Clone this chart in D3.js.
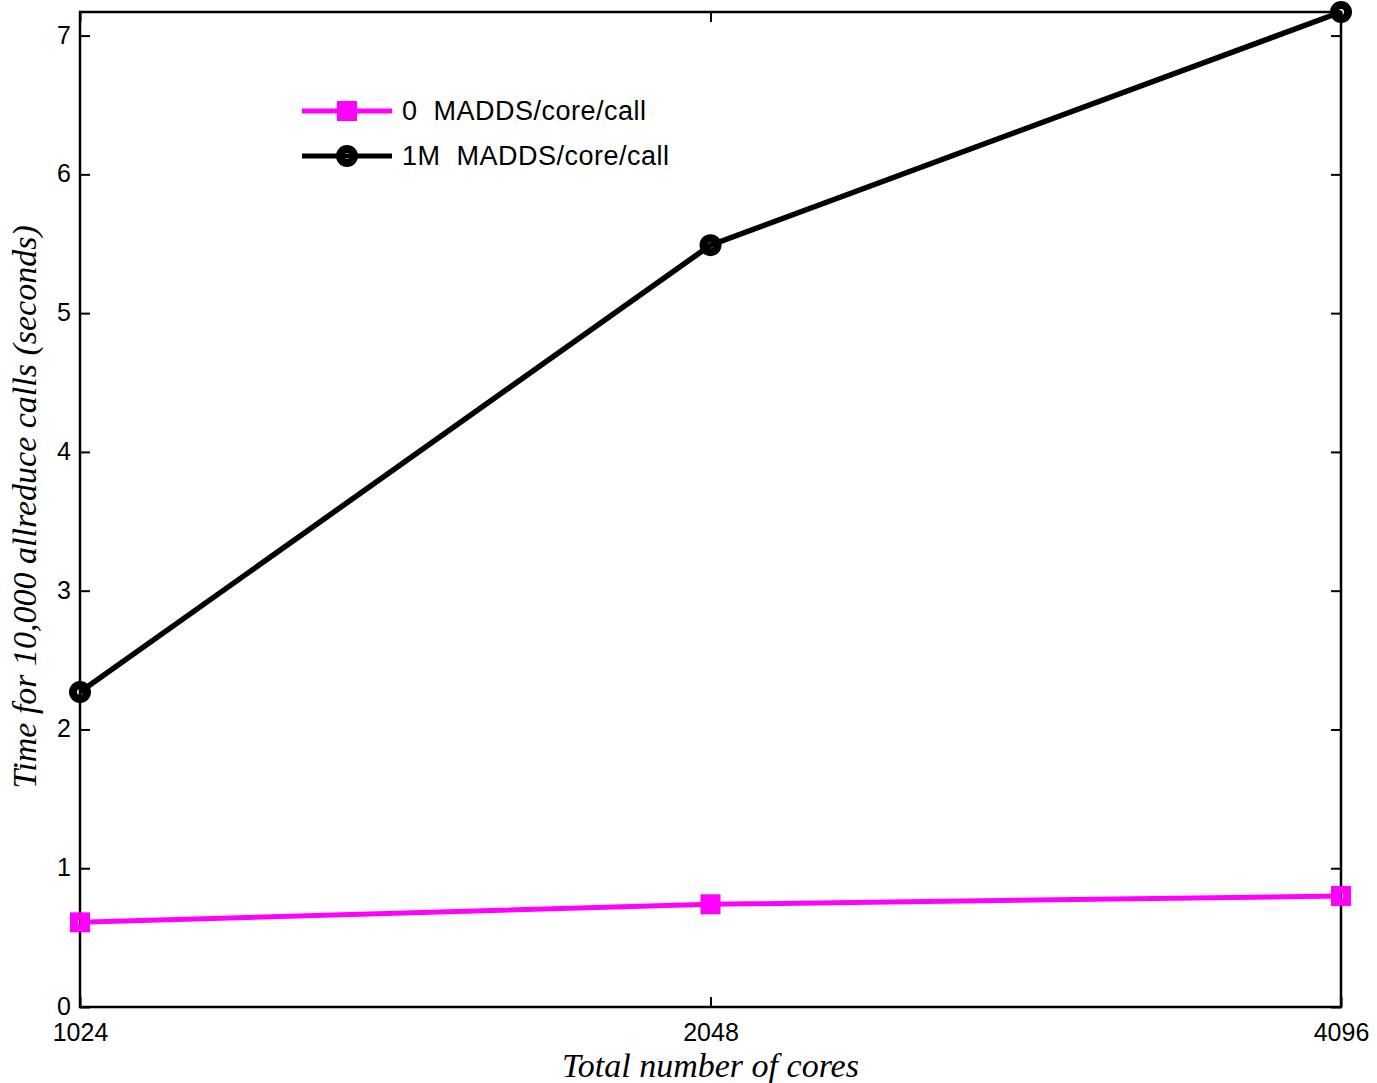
<!DOCTYPE html>
<html>
<head>
<meta charset="utf-8">
<script src="https://d3js.org/d3.v7.min.js"></script>
<style>
    body { margin: 0; background: #fff; }
    .tick text { font-family: "Liberation Sans", Arial, sans-serif; font-size: 25px; fill: #000; }
    .axis-title { font-family: "Liberation Serif", "DejaVu Serif", serif; font-style: italic; font-size: 34px; fill: #000; }
    .legend text { font-family: "Liberation Sans", Arial, sans-serif; font-size: 27px; letter-spacing: 0.5px; fill: #000; white-space: pre; }
</style>
</head>
<body>
<div id="chart"></div>
<script>
// data
var cores = [1024, 2048, 4096];
var madds0 = [0.61, 0.74, 0.80];
var madds1M = [2.27, 5.49, 7.17];
var yTicks = [0, 1, 2, 3, 4, 5, 6, 7];
var seriesNames = ["0  MADDS/core/call", "1M  MADDS/core/call"];

var W = 1377, H = 1083;
var margin = {left: 80, right: 36, top: 12, bottom: 76};
var width = W - margin.left - margin.right;
var height = H - margin.top - margin.bottom;

var svg = d3.select("#chart").append("svg")
    .attr("width", W)
    .attr("height", H);

var g = svg.append("g")
    .attr("transform", "translate(" + margin.left + "," + margin.top + ")");

var x = d3.scaleLog().base(2).domain([1024, 4096]).range([0, width]);
var y = d3.scaleLinear().domain([0, 7.17]).range([height, 0]);

// axes, ticks inward on all four sides
var xAxis = g.append("g")
    .attr("transform", "translate(0," + height + ")")
    .call(d3.axisBottom(x).tickValues(cores).tickFormat(d3.format("d")).tickSizeInner(-10).tickSizeOuter(0).tickPadding(16));
var yAxis = g.append("g")
    .call(d3.axisLeft(y).tickValues(yTicks).tickSizeInner(-10).tickSizeOuter(0).tickPadding(9));
g.append("g")
    .call(d3.axisTop(x).tickValues(cores).tickFormat("").tickSizeInner(-10).tickSizeOuter(0));
g.append("g")
    .attr("transform", "translate(" + width + ",0)")
    .call(d3.axisRight(y).tickValues(yTicks).tickFormat("").tickSizeInner(-10).tickSizeOuter(0));

g.selectAll(".domain").remove();
g.selectAll(".tick line").attr("stroke", "#000").attr("stroke-width", 2);
yAxis.selectAll(".tick text").attr("dy", "0.3em");

g.append("rect")
    .attr("width", width)
    .attr("height", height)
    .attr("fill", "none")
    .attr("stroke", "#000")
    .attr("stroke-width", 2.5);

// lines
var line = d3.line()
    .x(function(d, i) { return x(cores[i]); })
    .y(function(d) { return y(d); });

g.append("path").datum(madds0)
    .attr("d", line)
    .attr("fill", "none")
    .attr("stroke", "#ff00ff")
    .attr("stroke-width", 5);

g.selectAll(".sq").data(madds0).enter().append("rect")
    .attr("x", function(d, i) { return x(cores[i]) - 6; })
    .attr("y", function(d) { return y(d) - 6; })
    .attr("width", 12)
    .attr("height", 12)
    .attr("fill", "none")
    .attr("stroke", "#ff00ff")
    .attr("stroke-width", 8);

g.append("path").datum(madds1M)
    .attr("d", line)
    .attr("fill", "none")
    .attr("stroke", "#000")
    .attr("stroke-width", 5.5);

g.selectAll(".ci").data(madds1M).enter().append("circle")
    .attr("cx", function(d, i) { return x(cores[i]); })
    .attr("cy", function(d) { return y(d); })
    .attr("r", 7)
    .attr("fill", "none")
    .attr("stroke", "#000")
    .attr("stroke-width", 8);

// legend
var legend = svg.append("g").attr("class", "legend");
var legendY = [111, 156];
var legendColor = ["#ff00ff", "#000"];
seriesNames.forEach(function(name, i) {
    legend.append("line")
        .attr("x1", 302).attr("x2", 392)
        .attr("y1", legendY[i]).attr("y2", legendY[i])
        .attr("stroke", legendColor[i])
        .attr("stroke-width", 5);
    if (i === 0) {
        legend.append("rect")
            .attr("x", 341).attr("y", legendY[i] - 6)
            .attr("width", 12).attr("height", 12)
            .attr("fill", "none")
            .attr("stroke", legendColor[i])
            .attr("stroke-width", 8);
    } else {
        legend.append("circle")
            .attr("cx", 347).attr("cy", legendY[i])
            .attr("r", 7)
            .attr("fill", "none")
            .attr("stroke", legendColor[i])
            .attr("stroke-width", 8);
    }
    legend.append("text")
        .attr("x", 402)
        .attr("y", legendY[i] + 9)
        .text(name);
});

// axis titles
svg.append("text")
    .attr("class", "axis-title")
    .attr("x", margin.left + width / 2)
    .attr("y", 1077)
    .attr("text-anchor", "middle")
    .text("Total number of cores");

svg.append("text")
    .attr("class", "axis-title")
    .attr("transform", "translate(36,507) rotate(-90)")
    .attr("text-anchor", "middle")
    .text("Time for 10,000 allreduce calls (seconds)");
</script>
</body>
</html>
